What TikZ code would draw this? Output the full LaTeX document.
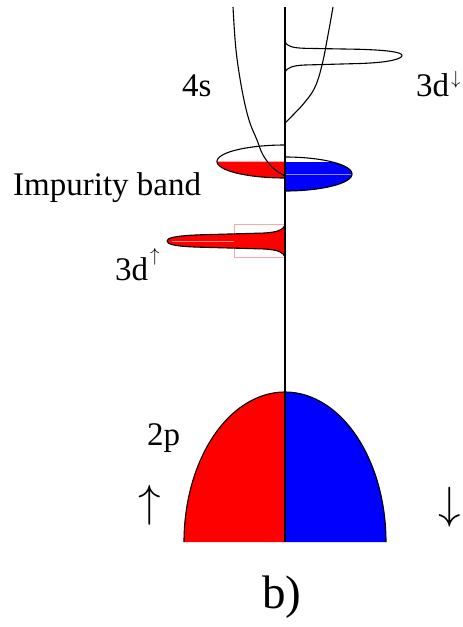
\documentclass[tikz,border=0pt]{standalone}
\usepackage{graphicx}
\usepackage{fontspec}
\setmainfont{Liberation Serif}
\newcommand{\suparrow}[2]{{\normalsize\raisebox{#1}{\scalebox{1.9}{$#2$}}}}
\begin{document}
\begin{tikzpicture}[x=1pt,y=-1pt,
  curve/.style={line width=1.1pt, line join=round},
  faint/.style={line width=0.5pt},
  lbl/.style={anchor=base west, inner sep=0pt, font=\fontsize{33}{38}\selectfont},
  bigarrow/.style={anchor=center, inner sep=0pt, font=\normalsize}]
\useasboundingbox (0,0) rectangle (463,627);

% 2p band
\fill[red] (285,542) -- plot[domain=180:270, samples=60, variable=\t] ({285+101*cos(\t)},{542+150*sin(\t)}) -- cycle;
\fill[blue] (285,542) -- plot[domain=270:360, samples=60, variable=\t] ({285+101*cos(\t)},{542+150*sin(\t)}) -- cycle;
\draw[curve] plot[domain=180:360, samples=120, variable=\t] ({285+101*cos(\t)},{542+150*sin(\t)});

% impurity band, spin up (left)
\fill[red] (285,161.5) -- plot[domain=0:90, samples=40, variable=\t] ({285-68*cos(\t)},{161.5+16.5*sin(\t)}) -- cycle;
\draw[curve] plot[domain=-90:90, samples=80, variable=\t] ({285-68*cos(\t)},{161.5+16.5*sin(\t)});

% impurity band, spin down (right)
\fill[blue] (285,162) -- plot[domain=-44.9:90, samples=60, variable=\t] ({285+67*cos(\t)},{174+17*sin(\t)}) -- cycle;
\draw[blue!45!white, faint] (285,174) -- (351,174);
\draw[curve] plot[domain=-90:90, samples=80, variable=\t] ({285+67*cos(\t)},{174+17*sin(\t)});

% 3d spin up peak
\draw[red!35!white, faint] (285,224) -- (234,224) -- (234,257) -- (285,257);
\filldraw[fill=red, curve] (285,225) .. controls (283,230) and (278,232) .. (265,233) -- (200,234.8) .. controls (174,235.8) and (167,238) .. (167,241) .. controls (167,244) and (174,246.5) .. (200,247.2) -- (265,249) .. controls (278,250) and (283,252) .. (285,257) -- cycle;
\draw[red!45!white, faint] (172,241) -- (234,241);

% 3d spin down peak
\draw[curve] (285,42) .. controls (287,46) and (292,48) .. (305,48.3) -- (360,49.3) .. controls (391,50.3) and (402,52.5) .. (402,55.5) .. controls (402,58.5) and (391,62.5) .. (360,63.5) -- (305,65) .. controls (292,65.5) and (287,68) .. (285,72);

% 4s bands
\draw[curve] plot[smooth, tension=0.6] coordinates {(285,176) (273,168) (263,155) (257,140) (249,120) (242,90) (236,50) (233,7)};
\draw[curve] plot[smooth, tension=0.7] coordinates {(285,123) (293,115) (305,102) (315,87) (322,65) (328,35) (333,7)};

% energy axis
\draw[line width=1.2pt] (285,7) -- (285,542);

% labels
\node[lbl] (s4) at (182,96) {4s};
\node[lbl] (imp) at (13,195) {Impurity band};
\node[lbl] (d3u) at (115,280) {3d\kern2pt\suparrow{18.7pt}{\uparrow}};
\node[lbl] (d3d) at (416,96) {3d\kern2pt\suparrow{11.7pt}{\downarrow}};
\node[lbl] (p2) at (147,445) {2p};
\node[bigarrow] (up) at (150,505) {\scalebox{4.5}{$\uparrow$}};
\node[bigarrow] (dn) at (450,507) {\scalebox{4.5}{$\downarrow$}};
\node[anchor=base, inner sep=0pt, font=\fontsize{47}{52}\selectfont] (lab) at (282,608) {b)};
\end{tikzpicture}
\end{document}
